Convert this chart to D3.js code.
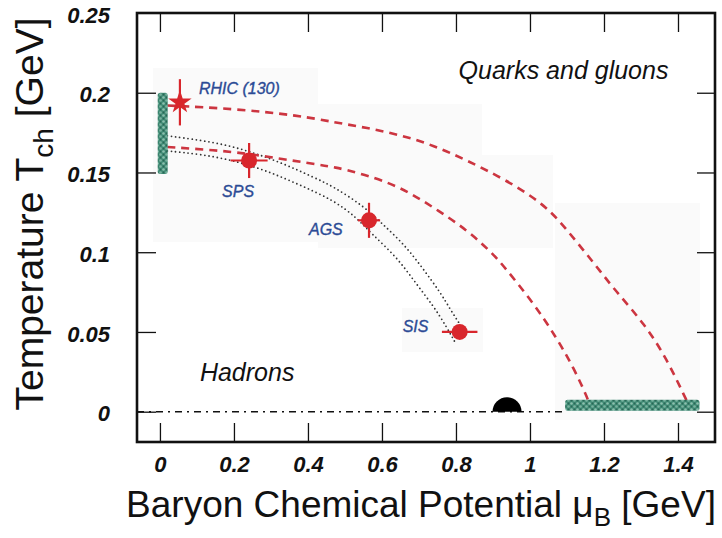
<!DOCTYPE html>
<html>
<head>
<meta charset="utf-8">
<script src="https://cdn.jsdelivr.net/npm/d3@7/dist/d3.min.js"></script>
<style>
  html, body { margin: 0; padding: 0; background: #fff; }
  svg { display: block; font-family: "Liberation Sans", Arial, Helvetica, sans-serif; }
</style>
</head>
<body>
<svg id="chart" width="722" height="538"></svg>
<script>
// ---- data -------------------------------------------------------------
const xTicks = [0, 0.2, 0.4, 0.6, 0.8, 1, 1.2, 1.4];
const xTickLabels = ["0", "0.2", "0.4", "0.6", "0.8", "1", "1.2", "1.4"];
const yTicks = [0, 0.05, 0.1, 0.15, 0.2, 0.25];
const yTickLabels = ["0", "0.05", "0.1", "0.15", "0.2", "0.25"];

// freeze-out points
const pointNames = ["RHIC (130)", "SPS", "AGS", "SIS"];
const pointMu    = [0.054, 0.241, 0.565, 0.810];
const pointT     = [0.194, 0.1575, 0.120, 0.050];
const pointMuErr = [0, 0.050, 0.030, 0.048];
const pointTErr  = [0.0145, 0.011, 0.011, 0.003];
const pointShape = ["star", "circle", "circle", "circle"];

// phase boundary estimates (red dashed)
const upperBoundary = [[0.02,0.192],[0.2,0.190],[0.38,0.1856],[0.47,0.1815],[0.56,0.178],[0.65,0.1735],
  [0.74,0.167],[0.83,0.1575],[0.93,0.146],[1.04,0.130],[1.10,0.114],[1.17,0.094],[1.23,0.076],
  [1.31,0.055],[1.37,0.033],[1.42,0.0085],[1.432,0.003]];
const lowerBoundary = [[0.02,0.166],[0.15,0.164],[0.24,0.1617],[0.33,0.1585],[0.42,0.1552],[0.47,0.1535],
  [0.55,0.149],[0.65,0.141],[0.74,0.128],[0.83,0.114],[0.90,0.099],[0.93,0.091],[1.01,0.068],
  [1.07,0.047],[1.117,0.028],[1.158,0.0075],[1.162,0.003]];

// chemical freeze-out curves (black dotted)
const upperFreeze = [[0.02,0.173],[0.15,0.169],[0.24,0.1635],[0.33,0.156],[0.42,0.1465],[0.47,0.141],
  [0.55,0.129],[0.60,0.118],[0.66,0.105],[0.71,0.090],[0.76,0.074],[0.785,0.064],[0.81,0.055]];
const lowerFreeze = [[0.02,0.1635],[0.11,0.1615],[0.20,0.1575],[0.29,0.151],[0.38,0.142],[0.47,0.1325],
  [0.53,0.122],[0.57,0.112],[0.64,0.097],[0.69,0.081],[0.74,0.066],[0.775,0.053],[0.80,0.0425]];

// lattice band at muB = 0 and nuclear-matter band at T = 0: [mu0, mu1, T0, T1]
const latticeBand = [-0.006, 0.021, 0.149, 0.200];
const nuclearBand = [1.095, 1.458, 0.0006, 0.0075];
// ground state nuclear matter
const nucleonMu = 0.938;
// T = 0 reference line extent
const groundLine = [-0.062, 1.095];

// phase region labels
const regionNames = ["Quarks and gluons", "Hadrons"];
const regionMu = [0.807, 0.108];
const regionT  = [0.2085, 0.0195];

(function draw() {
  const svg = d3.select("#chart");
  const pL = 137, pR = 715, pT = 13, pB = 442;

  const x = d3.scaleLinear().domain([-0.062, 1.5]).range([pL, pR]);
  const y = d3.scaleLinear().domain([-0.019, 0.25]).range([pB, pT]);

  // faint scanned-panel background patches
  const bg = svg.append("g").attr("fill", "#fafafa");
  [[153,68,318,242],[318,104,482,248],[482,155,553,248],[402,308,483,352],[555,203,700,420]]
    .forEach(r => bg.append("rect").attr("x", r[0]).attr("y", r[1]).attr("width", r[2]-r[0]).attr("height", r[3]-r[1]));

  // hatch pattern for the bands
  const defs = svg.append("defs");
  const pat = defs.append("pattern").attr("id", "hatch").attr("patternUnits", "userSpaceOnUse")
    .attr("width", 6).attr("height", 6);
  pat.append("rect").attr("width", 6).attr("height", 6).attr("fill", "#3f8a74");
  pat.append("circle").attr("cx", 1.5).attr("cy", 1.5).attr("r", 1.3).attr("fill", "#8cc0ae");
  pat.append("circle").attr("cx", 4.5).attr("cy", 4.5).attr("r", 1.3).attr("fill", "#7ab3a0");
  pat.append("circle").attr("cx", 4.5).attr("cy", 1.5).attr("r", 0.9).attr("fill", "#2b6656");
  pat.append("circle").attr("cx", 1.5).attr("cy", 4.5).attr("r", 0.9).attr("fill", "#2b6656");

  // T = 0 dash-dot line
  svg.append("line")
    .attr("x1", x(groundLine[0])).attr("x2", x(groundLine[1]))
    .attr("y1", y(0)).attr("y2", y(0))
    .attr("stroke", "#111").attr("stroke-width", 1.6)
    .attr("stroke-dasharray", "7,5,2,5");

  const lineB = d3.line().x(d => x(d[0])).y(d => y(d[1])).curve(d3.curveBasis);

  // dotted freeze-out curves
  [upperFreeze, lowerFreeze].forEach(c => {
    svg.append("path").attr("d", lineB(c)).attr("fill", "none")
      .attr("stroke", "#333").attr("stroke-width", 1.8)
      .attr("stroke-linecap", "round").attr("stroke-dasharray", "0,4.2");
  });

  // dashed boundary curves
  [upperBoundary, lowerBoundary].forEach(c => {
    svg.append("path").attr("d", lineB(c)).attr("fill", "none")
      .attr("stroke", "#cc3540").attr("stroke-width", 2.6)
      .attr("stroke-dasharray", "8,6");
  });

  // bands
  [latticeBand, nuclearBand].forEach(b => {
    svg.append("rect")
      .attr("x", x(b[0])).attr("y", y(b[3]))
      .attr("width", x(b[1]) - x(b[0])).attr("height", y(b[2]) - y(b[3]))
      .attr("rx", 2.5)
      .attr("fill", "url(#hatch)");
  });

  // nucleon half-disc at T = 0
  const rN = 14.5;
  svg.append("path")
    .attr("d", `M${x(nucleonMu) - rN},${y(0)} A${rN},${rN} 0 0 1 ${x(nucleonMu) + rN},${y(0)} Z`)
    .attr("fill", "#000");

  // error bars and markers
  const red = "#d8262c";
  const eb = svg.append("g").attr("stroke", red).attr("stroke-width", 2.2);
  pointNames.forEach((n, i) => {
    const cx = x(pointMu[i]), cy = y(pointT[i]);
    if (pointMuErr[i] > 0)
      eb.append("line").attr("x1", x(pointMu[i] - pointMuErr[i])).attr("x2", x(pointMu[i] + pointMuErr[i]))
        .attr("y1", cy).attr("y2", cy);
    if (pointTErr[i] > 0)
      eb.append("line").attr("x1", cx).attr("x2", cx)
        .attr("y1", y(pointT[i] - pointTErr[i])).attr("y2", y(pointT[i] + pointTErr[i]));
  });
  pointNames.forEach((n, i) => {
    const cx = x(pointMu[i]), cy = y(pointT[i]);
    if (pointShape[i] === "star") {
      svg.append("path").attr("d", d3.symbol(d3.symbolStar, 170)())
        .attr("transform", `translate(${cx},${cy})`).attr("fill", red);
    } else {
      svg.append("circle").attr("cx", cx).attr("cy", cy).attr("r", 8).attr("fill", red);
    }
  });

  // point labels (offsets from each marker, px)
  const labelDx = [19, -27, -60, -57];
  const labelDy = [-8, 36, 15, 0];
  pointNames.forEach((n, i) => {
    svg.append("text")
      .attr("x", x(pointMu[i]) + labelDx[i]).attr("y", y(pointT[i]) + labelDy[i])
      .attr("font-size", 16).attr("font-style", "italic")
      .attr("stroke", "#2b4a95").attr("stroke-width", 0.35)
      .attr("fill", "#2b4a95").text(n);
  });

  // region labels
  regionNames.forEach((n, i) => {
    svg.append("text").attr("x", x(regionMu[i])).attr("y", y(regionT[i]))
      .attr("font-size", 25).attr("font-style", "italic").attr("fill", "#111").text(n);
  });

  // axes: ticks on all four sides, pointing inward
  const tickStyle = g => {
    g.select(".domain").remove();
    g.selectAll(".tick line").attr("stroke", "#111").attr("stroke-width", 1.3);
    g.selectAll("text").attr("font-size", 22).attr("font-weight", "bold")
      .attr("font-style", "italic").attr("fill", "#111")
      .attr("font-family", "'Liberation Sans', Arial, sans-serif");
  };
  svg.append("g").attr("transform", `translate(0,${pB})`)
    .call(d3.axisBottom(x).tickValues(xTicks).tickSize(-19).tickPadding(14)
          .tickFormat((d, i) => xTickLabels[i]))
    .call(tickStyle);
  svg.append("g").attr("transform", `translate(0,${pT})`)
    .call(d3.axisTop(x).tickValues(xTicks).tickSize(-19).tickFormat(""))
    .call(tickStyle);
  const yAxis = svg.append("g").attr("transform", `translate(${pL},0)`)
    .call(d3.axisLeft(y).tickValues(yTicks).tickSize(-19).tickPadding(27)
          .tickFormat((d, i) => yTickLabels[i]))
    .call(tickStyle);
  yAxis.selectAll("text").attr("dy", "0.42em");
  yAxis.selectAll(".tick").filter(d => d === 0.25).select("line").remove();
  const rAxis = svg.append("g").attr("transform", `translate(${pR},0)`)
    .call(d3.axisRight(y).tickValues(yTicks).tickSize(-18).tickFormat(""))
    .call(tickStyle);
  rAxis.selectAll(".tick").filter(d => d === 0.25).remove();

  // frame
  svg.append("rect").attr("x", pL).attr("y", pT)
    .attr("width", pR - pL).attr("height", pB - pT)
    .attr("fill", "none").attr("stroke", "#111").attr("stroke-width", 2.6);

  // axis titles
  const xt = svg.append("text").attr("x", 421).attr("y", 517)
    .attr("text-anchor", "middle").attr("font-size", 37).attr("fill", "#111");
  xt.append("tspan").text("Baryon Chemical Potential μ");
  xt.append("tspan").attr("font-size", 26).attr("dy", 9).text("B");
  xt.append("tspan").attr("dy", -9).text(" [GeV]");

  const yt = svg.append("text").attr("transform", "translate(43,214) rotate(-90)")
    .attr("text-anchor", "middle").attr("font-size", 39).attr("fill", "#111");
  yt.append("tspan").text("Temperature T");
  yt.append("tspan").attr("font-size", 28).attr("dy", 10).text("ch");
  yt.append("tspan").attr("dy", -10).text(" [GeV]");
})();
</script>
</body>
</html>
